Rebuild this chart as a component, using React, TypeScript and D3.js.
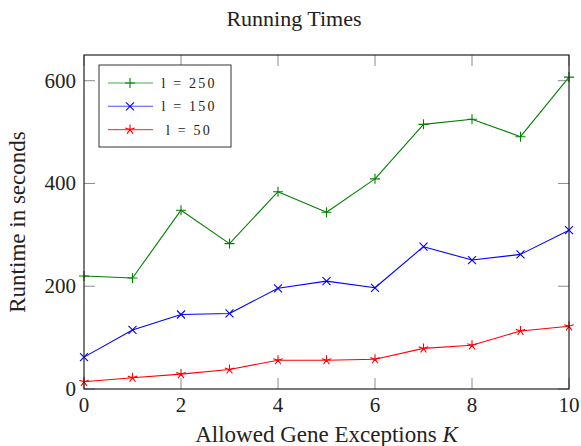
import React, { useEffect, useRef } from "react";
import * as d3 from "d3";

const W = 581;
const H = 446;
const M = { top: 55, right: 12, bottom: 57, left: 84 };

const FONT = "'Liberation Serif', 'Times New Roman', serif";

// K values on the x axis
const K_VALUES = [0, 1, 2, 3, 4, 5, 6, 7, 8, 9, 10];
const X_TICKS = [0, 2, 4, 6, 8, 10];
const Y_TICKS = [0, 200, 400, 600];

// runtimes (seconds)
const RUN_250 = [220, 216, 348, 283, 384, 344, 409, 515, 525, 491, 607];
const RUN_150 = [62, 115, 145, 147, 196, 210, 197, 277, 251, 262, 309];
const RUN_50 = [14, 22, 29, 38, 56, 56, 58, 79, 85, 113, 122];

type MarkKind = "plus" | "cross" | "star";

interface Series {
  label: string;
  values: number[];
  color: string;
  mark: MarkKind;
}

const SERIES: Series[] = [
  { label: "l = 250", values: RUN_250, color: "#008000", mark: "plus" },
  { label: "l = 150", values: RUN_150, color: "#0000ff", mark: "cross" },
  { label: "l = 50", values: RUN_50, color: "#ff0000", mark: "star" },
];

function markPath(kind: MarkKind): string {
  if (kind === "plus") return "M-5,0H5M0,-5V5";
  if (kind === "cross") return "M-4,-4L4,4M-4,4L4,-4";
  // five-armed asterisk, first arm pointing up
  const r = 5;
  let p = "";
  for (let k = 0; k < 5; k++) {
    const a = -Math.PI / 2 + (k * 2 * Math.PI) / 5;
    p += `M0,0L${(r * Math.cos(a)).toFixed(2)},${(r * Math.sin(a)).toFixed(2)}`;
  }
  return p;
}

const App: React.FC = () => {
  const svgRef = useRef<SVGSVGElement>(null);

  useEffect(() => {
    const svgEl = svgRef.current;
    if (!svgEl) return;
    const svg = d3.select(svgEl);
    svg.selectAll("*").remove();

    const iW = W - M.left - M.right;
    const iH = H - M.top - M.bottom;

    const x = d3.scaleLinear().domain([0, 10]).range([0, iW]);
    const y = d3.scaleLinear().domain([0, 650]).range([iH, 0]);

    const g = svg.append("g").attr("transform", `translate(${M.left},${M.top})`);

    // clip so lines stay inside the frame
    svg.append("defs").append("clipPath").attr("id", "plot-clip")
      .append("rect").attr("x", -6).attr("y", -6).attr("width", iW + 12).attr("height", iH + 12);

    // inward ticks on all four sides
    const TL = 11;
    const ticks = g.append("g").attr("stroke", "#8c8c8c").attr("stroke-width", 1);
    X_TICKS.forEach(t => {
      ticks.append("line").attr("x1", x(t)).attr("x2", x(t)).attr("y1", iH).attr("y2", iH - TL);
      ticks.append("line").attr("x1", x(t)).attr("x2", x(t)).attr("y1", 0).attr("y2", TL);
    });
    Y_TICKS.forEach(t => {
      ticks.append("line").attr("x1", 0).attr("x2", TL).attr("y1", y(t)).attr("y2", y(t));
      ticks.append("line").attr("x1", iW).attr("x2", iW - TL).attr("y1", y(t)).attr("y2", y(t));
    });

    // series
    const line = d3.line<number>()
      .x((_, i) => x(K_VALUES[i]))
      .y(v => y(v));

    const plot = g.append("g").attr("clip-path", "url(#plot-clip)");
    SERIES.forEach(s => {
      plot.append("path")
        .datum(s.values)
        .attr("d", line)
        .attr("fill", "none")
        .attr("stroke", s.color)
        .attr("stroke-width", 1.1)
        .attr("stroke-linejoin", "round");
      plot.selectAll(null)
        .data(s.values)
        .join("path")
        .attr("transform", (v, i) => `translate(${x(K_VALUES[i])},${y(v)})`)
        .attr("d", markPath(s.mark))
        .attr("fill", "none")
        .attr("stroke", s.color)
        .attr("stroke-width", 1.1);
    });

    // frame
    g.append("rect")
      .attr("x", 0).attr("y", 0).attr("width", iW).attr("height", iH)
      .attr("fill", "none").attr("stroke", "#222").attr("stroke-width", 1.2);

    // tick labels
    g.append("g").selectAll("text")
      .data(X_TICKS)
      .join("text")
      .attr("x", d => x(d))
      .attr("y", iH + 23)
      .attr("text-anchor", "middle")
      .attr("font-family", FONT)
      .attr("font-size", 21)
      .attr("fill", "#222")
      .text(d => d);

    g.append("g").selectAll("text")
      .data(Y_TICKS)
      .join("text")
      .attr("x", -8)
      .attr("y", d => y(d) + 7)
      .attr("text-anchor", "end")
      .attr("font-family", FONT)
      .attr("font-size", 21)
      .attr("fill", "#222")
      .text(d => d);

    // title
    svg.append("text")
      .attr("x", 294).attr("y", 26)
      .attr("text-anchor", "middle")
      .attr("font-family", FONT).attr("font-size", 22).attr("fill", "#222")
      .text("Running Times");

    // x label
    const xl = svg.append("text")
      .attr("x", M.left + iW / 2).attr("y", 442)
      .attr("text-anchor", "middle")
      .attr("font-family", FONT).attr("font-size", 23).attr("fill", "#222");
    xl.append("tspan").text("Allowed Gene Exceptions ");
    xl.append("tspan").attr("font-style", "italic").text("K");

    // y label
    svg.append("text")
      .attr("transform", `translate(25,${M.top + iH / 2}) rotate(-90)`)
      .attr("text-anchor", "middle")
      .attr("font-family", FONT).attr("font-size", 23).attr("fill", "#222")
      .text("Runtime in seconds");

    // legend
    const lg = svg.append("g");
    lg.append("rect")
      .attr("x", 99).attr("y", 65).attr("width", 132).attr("height", 82)
      .attr("fill", "#fff").attr("stroke", "#333").attr("stroke-width", 1);
    SERIES.forEach((s, i) => {
      const cy = 83 + i * 23.3;
      lg.append("line")
        .attr("x1", 108).attr("x2", 153).attr("y1", cy).attr("y2", cy)
        .attr("stroke", s.color).attr("stroke-width", 1.1).attr("opacity", 0.7);
      lg.append("path")
        .attr("transform", `translate(130,${cy})`)
        .attr("d", markPath(s.mark))
        .attr("fill", "none").attr("stroke", s.color).attr("stroke-width", 1.1);
      lg.append("text")
        .attr("x", 189).attr("y", cy + 5)
        .attr("text-anchor", "middle")
        .attr("font-family", FONT).attr("font-size", 14)
        .attr("letter-spacing", 2.2)
        .attr("fill", "#222")
        .text(s.label);
    });
  }, []);

  return (
    <svg
      ref={svgRef}
      width={W}
      height={H}
      style={{ position: "absolute", left: 0, top: 0, background: "#fff", display: "block" }}
    />
  );
};

export default App;
